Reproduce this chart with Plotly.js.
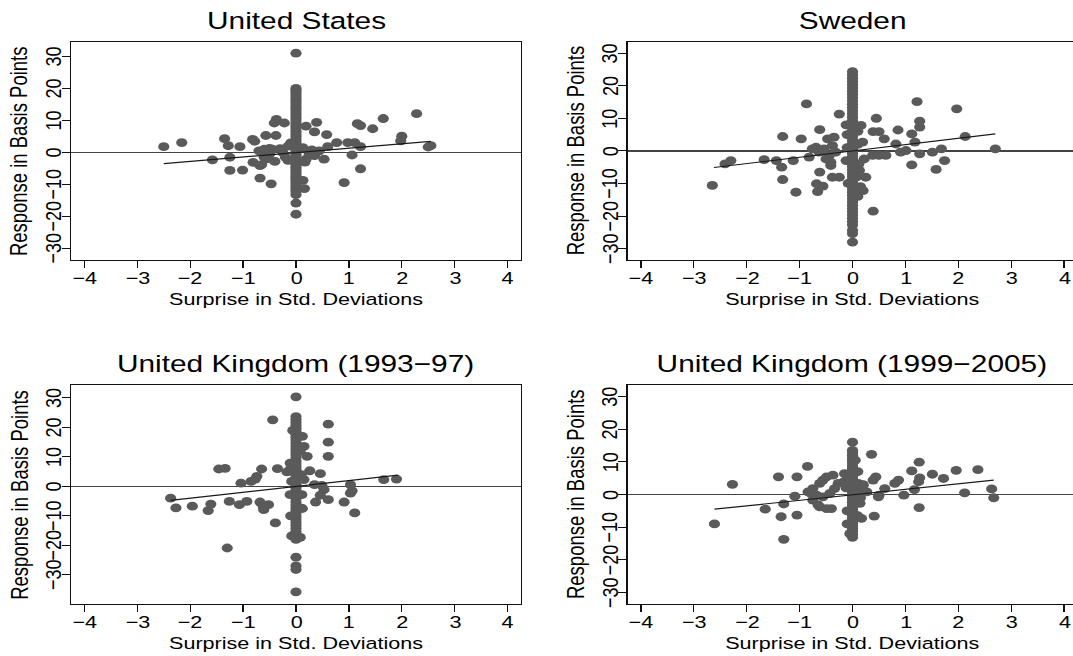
<!DOCTYPE html>
<html><head><meta charset="utf-8">
<script src="https://cdn.plot.ly/plotly-3.0.1.min.js"></script>
<style>
html,body{margin:0;padding:0;background:#fff;overflow:hidden;}
#chart{width:845px;height:656px;transform:scaleX(1.26982);transform-origin:0 0;}
</style></head><body><div id="chart"></div>
<script>
// ---------- data ----------
const xTicks = [-4, -3, -2, -1, 0, 1, 2, 3, 4];
const yTicks = [-30, -20, -10, 0, 10, 20, 30];
const panelTitles = ["United States", "Sweden", "United Kingdom (1993\u221297)", "United Kingdom (1999\u22122005)"];
const xTitle = "Surprise in Std. Deviations";
const yTitle = "Response in Basis Points";

// United States: days with zero surprise
const usZeroX = [0,0,0,0,0,0,0,0,0,0, 0,0,0,0,0,0,0,0,0,0, 0,0,0,0,0,0,0,0,0,0, 0,0,0,0,0,0,0,0,0,0, 0,0,0,0,0,0,0,0,0];
const usZeroY = [31,20,19.4,18.7,18,17.3,16.6,15.9,15.2,14.5,
  13.8,13,12.2,11.4,10.6,9.8,9,8.2,7.4,6.6,
  5.8,5,4.2,3.4,2.6,1.8,1,0.3,-0.4,-1.1,
  -1.8,-2.5,-3.2,-3.9,-4.6,-5.3,-6,-6.7,-7.4,-8.1,
  -8.8,-9.5,-10.2,-10.9,-11.6,-12.3,-13.2,-15.8,-19.3];
const usX = [-2.5,-2.16,-1.58,-1.35,-1.28,-1.25,-1.25,-1.06,-1.01,-0.82,-0.78,-0.81,-0.68,-0.68,-0.57,-0.47,-0.38,-0.41,-0.37,-0.22,
  -0.7,-0.6,-0.5,-0.45,-0.5,-0.6,-0.55,-0.3,-0.25,-0.2,-0.15,-0.15,-0.1,-0.65,-0.4,
  0.19,0.39,0.35,0.58,0.13,0.19,0.35,0.44,0.53,0.13,0.16,0.77,0.98,1.11,1.22,1.06,1.16,1.22,1.22,0.91,1.45,1.65,2.0,1.98,2.28,2.5,2.55,0.3,0.25,0.6,0.17];
const usY = [1.8,3.1,-2.3,4.3,2.1,-1.5,-5.6,1.8,-5.5,4.1,3.5,-3.1,-4.1,-8.0,5.3,-9.8,5.3,9.2,10.3,9.2,
  0.5,1.0,1.3,1.0,-0.5,-1.5,-2.0,1.2,0,-1.5,-2.5,2.0,3.0,-3.8,-2.8,
  8.2,9.4,6.4,5.6,1.5,-2.1,-1.0,0.5,-2.1,-8.7,-11.3,3.1,3.1,3.1,1.8,-0.8,9.0,8.4,-5.1,-9.4,7.4,10.6,5.1,3.6,12.1,1.7,2.1,0.8,-0.5,1.8,-3.0];
const usFitX = [-2.5, 2.55];
const usFitY = [-3.5, 3.45];

// Sweden
const seZeroX = [0,0,0,0,0,0,0,0,0,0, 0,0,0,0,0,0,0,0,0,0, 0,0,0,0,0,0,0,0,0,0, 0,0,0,0,0,0,0,0,0,0, 0,0,0,0,0,0,0,0,0,0, 0];
const seZeroY = [24.3,23.3,22.3,21.3,20.3,19.3,18.3,17.3,16.3,15.3,
  14.3,13.3,12.3,11.3,10.3,9.3,8.3,7.3,6.3,5.3,
  4.3,3.3,2.3,1.3,0.3,-0.7,-1.7,-2.7,-3.7,-4.7,
  -5.7,-6.7,-7.7,-8.7,-9.7,-10.7,-11.7,-12.7,-13.7,-14.7,
  -15.7,-16.7,-17.7,-18.7,-19.7,-20.7,-21.7,-22.7,-24.4,-25.4,
  -28.0];
const seX = [-2.65,-2.41,-2.30,-1.67,-1.44,-1.34,-1.32,-1.32,-1.12,-1.07,-0.97,-0.87,-0.82,-0.76,-0.68,-0.66,-0.62,-0.62,-0.56,-0.47,-0.41,-0.38,-0.25,-0.25,-0.35,
  -0.69,-0.63,-0.54,-0.44,-0.38,-0.32,-0.5,-0.41,
  0.16,0.19,0.22,0.13,0.25,0.2,0.39,0.45,0.39,0.5,0.6,0.38,0.5,0.63,0.82,0.86,0.91,1.01,1.12,1.12,1.18,1.22,1.27,1.27,1.27,1.51,1.58,1.68,1.74,1.97,2.13,2.70,
  -0.1,0.1,-0.12,0.12,0.1,-0.1,0.08,-0.08,0.15,-0.12,0.1];
const seY = [-10.6,-4.0,-3.0,-2.7,-3.0,-5.0,4.4,-8.8,-3.0,-12.7,3.7,14.4,-1.9,0.6,-10.1,-12.5,6.5,-6.5,-10.8,3.7,-4.5,-8.1,-8.1,11.3,4.2,
  1.1,-0.4,0.6,-1.4,1.6,-0.4,-2.5,-3.5,
  7.8,2.7,-2.5,-6.0,-8.1,-12.2,-18.5,10.0,5.9,5.9,3.7,-1.4,-1.4,-1.4,2.1,6.4,-0.4,0.1,5.2,-4.3,2.7,15.1,9.1,7.3,-0.9,-0.4,-5.7,0.6,-3.0,12.9,4.4,0.6,
  5,6,-3,-4,2,1,-8,-10,-11,8,-14];
const seFitX = [-2.62, 2.7];
const seFitY = [-5.1, 5.2];

// United Kingdom 1993-97
const uk1ZeroX = [0,0,0,0,0,0,0,0,0,0, 0,0,0,0,0,0,0,0,0,0, 0,0,0,0,0,0,0,0,0,0, 0,0,0,0,0,0,0,0,0,0, 0,0,0,0,0,0,0,0];
const uk1ZeroY = [30.4,23.7,22.7,21.7,20.7,19.7,18.7,17.7,16.7,15.7,
  14.7,13.7,12.7,11.7,10.7,9.7,8.7,7.7,6.7,5.7,
  4.7,3.7,2.7,1.7,0.7,-0.3,-1.3,-2.3,-3.3,-4.3,
  -5.3,-6.3,-7.3,-8.3,-9.3,-10.3,-11.3,-12.3,-13.3,-14.3,
  -15.3,-16.3,-17.3,-18.0,-24.0,-27.0,-28.2,-35.8];
const uk1X = [-2.37,-2.27,-1.96,-1.66,-1.61,-1.46,-1.34,-1.30,-1.26,-1.07,-1.04,-0.93,-0.85,-0.77,-0.74,-0.65,-0.68,-0.61,-0.52,-0.44,-0.39,-0.35,-0.17,-0.11,
  0.15,0.21,0.26,0.15,0.46,0.35,0.49,0.53,0.37,0.61,0.61,0.61,0.61,0.91,1.03,1.06,1.03,1.11,1.66,1.90,0.11,0.08,-0.11,-0.08,-0.62,0.46,
  0.08,-0.08,0.1,-0.1,0.12,-0.1,0.08,0.12,-0.06];
const uk1Y = [-4.0,-7.3,-6.7,-8.2,-6.0,5.9,6.1,-20.9,-5.1,-6.2,1.1,-5.1,1.7,2.5,3.4,5.9,-5.3,-7.9,-6.2,22.6,-12.4,6.0,4.9,7.9,
  13.6,10.2,5.3,2.3,4.3,0.6,0.3,-1.1,-5.3,21.1,15.0,10.2,-4.5,-5.3,0.6,-1.5,-2.3,-9.0,2.3,2.5,-2.8,-7.3,-2.8,1.7,-6.8,-3.0,
  -17.3,-16.8,4,6,-7.5,-10,12,17,19];
const uk1FitX = [-2.37, 1.93];
const uk1FitY = [-4.75, 3.85];

// United Kingdom 1999-2005
const uk2ZeroX = [0,0,0,0,0,0,0,0,0,0, 0,0,0,0,0,0,0,0,0,0, 0,0,0,0,0,0,0,0,0,0, 0,0,0,0,0];
const uk2ZeroY = [16.0,13.5,12.8,12.0,11.2,10.4,9.6,8.8,8.0,7.2,
  6.4,5.6,4.8,4.0,3.2,2.4,1.6,0.8,0.0,-0.8,
  -1.6,-2.4,-3.2,-4.0,-4.8,-5.6,-6.4,-7.2,-8.0,-8.8,
  -9.6,-10.4,-11.2,-12.2,-13.1];
const uk2X = [-2.61,-2.27,-1.65,-1.40,-1.35,-1.30,-1.30,-1.09,-1.05,-1.05,-0.85,-0.84,-0.78,-0.75,-0.65,-0.62,-0.56,-0.49,-0.37,-0.62,-0.49,-0.40,-0.68,-0.56,-0.43,-0.34,-0.27,-0.15,-0.75,
  0.17,0.36,0.41,0.39,0.44,0.49,0.5,0.61,0.80,0.87,0.97,1.12,1.17,1.26,1.27,1.25,1.26,1.51,1.72,1.96,2.12,2.37,2.63,2.67,0.27,0.2,0.14,0.11,
  -0.12,0.12,-0.15,0.15,0.2,-0.1,0.1,-0.1,0.05,-0.05,0.1];
const uk2Y = [-9.0,3.1,-4.5,5.4,-6.8,-2.9,-13.7,-0.5,5.4,-6.3,8.6,0.8,0.3,-1.7,-3.2,3.4,4.4,5.4,5.9,-3.8,-4.3,-4.3,-0.2,-0.7,0.3,1.8,3.4,6.4,1.8,
  -7.3,12.3,-6.6,4.4,5.4,-0.7,-0.2,1.8,3.4,4.4,-0.2,7.2,1.5,9.9,5.1,3.9,-4.0,6.2,4.9,7.4,0.5,7.6,1.7,-1.0,0.8,2.8,-2.7,3.4,
  2,1.5,4,-1,3.0,-5,-6.5,-9,10.5,-12,7];
const uk2FitX = [-2.61, 2.67];
const uk2FitY = [-4.5, 4.4];

// ---------- drawing ----------
const FONT = "Liberation Sans, Arial, Helvetica, sans-serif";
const W = 1073, H = 656;
const MARK = "#5a5a5a";

const panels = [
  {zx: usZeroX, zy: usZeroY, x: usX, y: usY, fx: usFitX, fy: usFitY},
  {zx: seZeroX, zy: seZeroY, x: seX, y: seY, fx: seFitX, fy: seFitY},
  {zx: uk1ZeroX, zy: uk1ZeroY, x: uk1X, y: uk1Y, fx: uk1FitX, fy: uk1FitY},
  {zx: uk2ZeroX, zy: uk2ZeroY, x: uk2X, y: uk2Y, fx: uk2FitX, fy: uk2FitY}
];

// plot boxes in screen pixels [left, right, top, bottom]
const boxes = [
  [71.2, 520.8, 41.7, 260],
  [627.7, 1073, 41.7, 260],
  [71.2, 520.8, 385, 604],
  [627.7, 1073, 385, 604]
];
const xRanges = [[-4.25, 4.25], [-4.25, 4.168], [-4.25, 4.25], [-4.25, 4.168]];
const yRanges = [[-33.6, 34.6], [-33.5, 33.5], [-39.9, 34.4], [-33.5, 33.5]];
const centerX = [296, 852.5, 296, 852.5];
const yTitleX = [19.5, 576, 19.5, 576];
const yTickLabelX = [53.5, 610, 53.5, 610];

const fmt = v => v < 0 ? "\u2212" + Math.abs(v) : String(v);
const traces = [];
const layout = {
  width: 845, height: 656,
  margin: {l: 0, r: 0, t: 0, b: 0, pad: 0},
  paper_bgcolor: "#fff", plot_bgcolor: "#fff",
  showlegend: false,
  font: {family: FONT, color: "#000"},
  annotations: []
};

panels.forEach((p, i) => {
  const n = i === 0 ? "" : String(i + 1);
  const xa = "x" + n, ya = "y" + n;
  const b = boxes[i];
  traces.push({
    type: "scatter", mode: "markers", xaxis: xa, yaxis: ya,
    x: p.zx.concat(p.x), y: p.zy.concat(p.y),
    marker: {color: MARK, size: 8.8, line: {width: 0}},
    hoverinfo: "skip", cliponaxis: false
  });
  traces.push({
    type: "scatter", mode: "lines", xaxis: xa, yaxis: ya,
    x: p.fx, y: p.fy,
    line: {color: "#1a1a1a", width: 1.2},
    hoverinfo: "skip"
  });
  const right = i % 2 === 1;
  layout["xaxis" + n] = {
    domain: [b[0] / W, Math.min(1, b[1] / W)], anchor: ya,
    range: xRanges[i], tickvals: xTicks, showticklabels: false,
    ticks: "outside", ticklen: 7, tickwidth: 1, tickcolor: "#111",
    showline: true, linecolor: "#111", linewidth: 1, mirror: true,
    showgrid: false, zeroline: false, fixedrange: true
  };
  layout["yaxis" + n] = {
    domain: [1 - b[3] / H, 1 - b[2] / H], anchor: xa,
    range: yRanges[i], tickvals: yTicks, showticklabels: false,
    ticks: "outside", ticklen: 6.3, tickwidth: 1, tickcolor: "#111",
    showline: true, linecolor: "#111", linewidth: 1, mirror: !right,
    showgrid: false, zeroline: true, zerolinecolor: "#444", zerolinewidth: 1.7,
    fixedrange: true
  };
  // x tick labels
  xTicks.forEach(v => {
    layout.annotations.push({
      text: fmt(v), xref: xa, yref: "paper", x: v, y: 1 - (b[3] + 18.3) / H,
      xanchor: "center", yanchor: "middle", showarrow: false,
      borderpad: 0, font: {size: 17, family: FONT, color: "#000"}
    });
  });
  // rotated y tick labels
  yTicks.forEach(v => {
    layout.annotations.push({
      text: fmt(v), xref: "paper", yref: ya, x: yTickLabelX[i] / W, y: v,
      xanchor: "center", yanchor: "middle", textangle: -90, showarrow: false,
      borderpad: 0, font: {size: 18, family: FONT, color: "#000"}
    });
  });
  const midY = (b[2] + b[3]) / 2;
  layout.annotations.push({
    text: panelTitles[i], xref: "paper", yref: "paper",
    x: centerX[i] / W, y: 1 - (b[2] - 20.7) / H, xanchor: "center", yanchor: "middle",
    showarrow: false, font: {size: 23.5, family: FONT, color: "#000"}
  });
  layout.annotations.push({
    text: xTitle, xref: "paper", yref: "paper",
    x: centerX[i] / W, y: 1 - (b[3] + 39.8) / H, xanchor: "center", yanchor: "middle",
    borderpad: 0, showarrow: false, font: {size: 17, family: FONT, color: "#000"}
  });
  layout.annotations.push({
    text: yTitle, xref: "paper", yref: "paper", textangle: -90,
    x: yTitleX[i] / W, y: 1 - midY / H, xanchor: "center", yanchor: "middle",
    showarrow: false, font: {size: 18.5, family: FONT, color: "#000"}
  });
});

Plotly.newPlot("chart", traces, layout, {staticPlot: true, displayModeBar: false});
</script></body></html>
